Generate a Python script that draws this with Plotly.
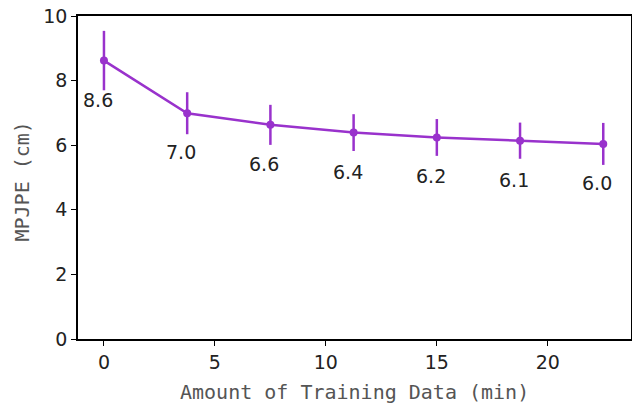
import plotly.graph_objects as go

minutes = [0, 3.75, 7.5, 11.25, 15, 18.75, 22.5]
mpjpe = [8.62, 6.99, 6.63, 6.39, 6.24, 6.14, 6.04]
err = [0.92, 0.65, 0.62, 0.57, 0.57, 0.56, 0.65]
labels = [f"{v:.1f}" for v in mpjpe]
x_ticks = [0, 5, 10, 15, 20]
y_ticks = [0, 2, 4, 6, 8, 10]

color = "#9932CC"
fig = go.Figure()
fig.add_trace(go.Scatter(
    x=minutes, y=mpjpe, mode="lines+markers",
    line=dict(color=color, width=2.5),
    marker=dict(color=color, size=8),
    error_y=dict(type="data", array=err, color=color, thickness=2.5, width=0),
    showlegend=False,
))

for xv, yv, t in zip(minutes, mpjpe, labels):
    fig.add_annotation(x=xv, y=yv, text=t, showarrow=False,
                       xshift=-6, yshift=-39,
                       font=dict(family="DejaVu Sans", size=19, color="#222"))

axis_common = dict(showline=True, linecolor="black", linewidth=1.5, mirror=True,
                   ticks="outside", ticklen=5, tickwidth=1.2, tickcolor="black",
                   showgrid=False, zeroline=False, automargin=False,
                   tickfont=dict(family="DejaVu Sans", size=19, color="#222"))

fig.update_xaxes(range=[-1.17, 23.75], tickvals=x_ticks, **axis_common)
fig.update_yaxes(range=[0, 10], tickvals=y_ticks, **axis_common)

title_font = dict(family="DejaVu Sans Mono", size=20, color="#555")
fig.add_annotation(text="Amount of Training Data (min)", xref="paper", yref="paper",
                   x=0.5, y=0, yshift=-67, showarrow=False, font=title_font)
fig.add_annotation(text="MPJPE (cm)", xref="paper", yref="paper", textangle=-90,
                   x=0, y=0.5, xshift=-71, yshift=-4, showarrow=False, font=title_font)

fig.update_layout(width=632, height=405,
                  margin=dict(l=78, r=1, t=16, b=66),
                  plot_bgcolor="white", paper_bgcolor="white")

fig.write_html("out.html", config={"displayModeBar": False},
               post_script="document.body.style.margin='0';")
